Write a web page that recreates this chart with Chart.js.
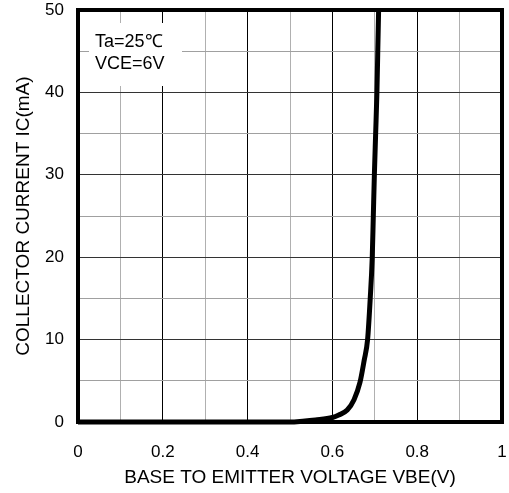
<!DOCTYPE html>
<html>
<head>
<meta charset="utf-8">
<script src="https://cdn.jsdelivr.net/npm/chart.js@4.4.1/dist/chart.umd.min.js"></script>
<style>
html,body{margin:0;padding:0;background:#fff;}
#wrap{width:509px;height:493px;}
</style>
</head>
<body>
<div id="wrap"><canvas id="c" width="509" height="493"></canvas></div>
<script>
// Data
const vbe = [0, 0.50, 0.53, 0.56, 0.60, 0.615, 0.635, 0.651, 0.665, 0.675, 0.683, 0.689, 0.694, 0.6965, 0.699, 0.702, 0.705, 0.707, 0.709];
const ic  = [0, 0,    0.1,  0.25, 0.55, 0.85,  1.45,  2.7,   4.8,   7.5,   10,    14.8,  20,    25,     30,    35,    40,    45,    50];
const xTickLabels = ['0', '0.2', '0.4', '0.6', '0.8', '1'];
const yTickLabels = ['0', '10', '20', '30', '40', '50'];
const annotationLines = ['Ta=25\u2103', 'VCE=6V'];
const xTitle = 'BASE TO EMITTER VOLTAGE VBE(V)';
const yTitle = 'COLLECTOR CURRENT IC(mA)';

const points = vbe.map((v, i) => ({x: v, y: ic[i]}));
const FONT = "'Liberation Sans', Arial, sans-serif";

const framePlugin = {
  id: 'frame',
  beforeDatasetsDraw(chart) {
    const {ctx, chartArea: a} = chart;
    ctx.save();
    ctx.fillStyle = '#fff';
    ctx.fillRect(a.left + 11, a.top + 13, 93, 63);
    ctx.fillStyle = '#000';
    ctx.font = '18px ' + FONT;
    ctx.textBaseline = 'alphabetic';
    ctx.fillText(annotationLines[0], a.left + 17, a.top + 37);
    ctx.fillText(annotationLines[1], a.left + 17, a.top + 59);
    ctx.restore();
  },
  afterDatasetsDraw(chart) {
    const {ctx, chartArea: a} = chart;
    ctx.save();
    ctx.strokeStyle = '#000';
    ctx.lineWidth = 4;
    ctx.strokeRect(a.left, a.top, a.right - a.left, a.bottom - a.top);
    ctx.restore();
  }
};

new Chart(document.getElementById('c'), {
  type: 'line',
  data: {
    datasets: [{
      data: points,
      borderColor: '#000',
      borderWidth: 5,
      pointRadius: 0,
      fill: false,
      cubicInterpolationMode: 'monotone',
      clip: false
    }]
  },
  options: {
    responsive: false,
    animation: false,
    devicePixelRatio: 1,
    layout: {padding: {top: 10, right: 7, left: 0, bottom: 0}},
    plugins: {legend: {display: false}, tooltip: {enabled: false}},
    scales: {
      x: {
        type: 'linear',
        min: 0, max: 1,
        afterFit(s) { s.height = 71; s.paddingLeft = 0; s.paddingRight = 0; },
        afterBuildTicks(s) {
          s.ticks = [];
          for (let i = 0; i <= 10; i++) s.ticks.push({value: i / 10});
        },
        ticks: {
          autoSkip: false,
          maxRotation: 0,
          padding: 20,
          color: '#000',
          font: {family: FONT, size: 17},
          callback: (v, i) => (i % 2 === 0 ? xTickLabels[i / 2] : '')
        },
        grid: {
          drawTicks: false,
          lineWidth: 1,
          color: ctx => (ctx.index % 2 === 0 ? '#000' : '#b0b0b0')
        },
        border: {display: false},
        title: {
          display: true,
          text: xTitle,
          color: '#000',
          font: {family: FONT, size: 19},
          padding: {top: 0, bottom: 4}
        }
      },
      y: {
        type: 'linear',
        min: 0, max: 50,
        afterFit(s) { s.width = 78; s.paddingTop = 0; s.paddingBottom = 0; },
        afterBuildTicks(s) {
          s.ticks = [];
          for (let i = 0; i <= 10; i++) s.ticks.push({value: i * 5});
        },
        ticks: {
          autoSkip: false,
          padding: 14,
          color: '#000',
          font: {family: FONT, size: 17},
          callback: (v, i) => (i % 2 === 0 ? yTickLabels[i / 2] : '')
        },
        grid: {
          drawTicks: false,
          lineWidth: 1,
          color: ctx => (ctx.index % 2 === 0 ? '#333' : '#a0a0a0')
        },
        border: {display: false},
        title: {
          display: true,
          text: yTitle,
          color: '#000',
          font: {family: FONT, size: 19},
          padding: {top: 12, bottom: 0}
        }
      }
    }
  },
  plugins: [framePlugin]
});
</script>
</body>
</html>
